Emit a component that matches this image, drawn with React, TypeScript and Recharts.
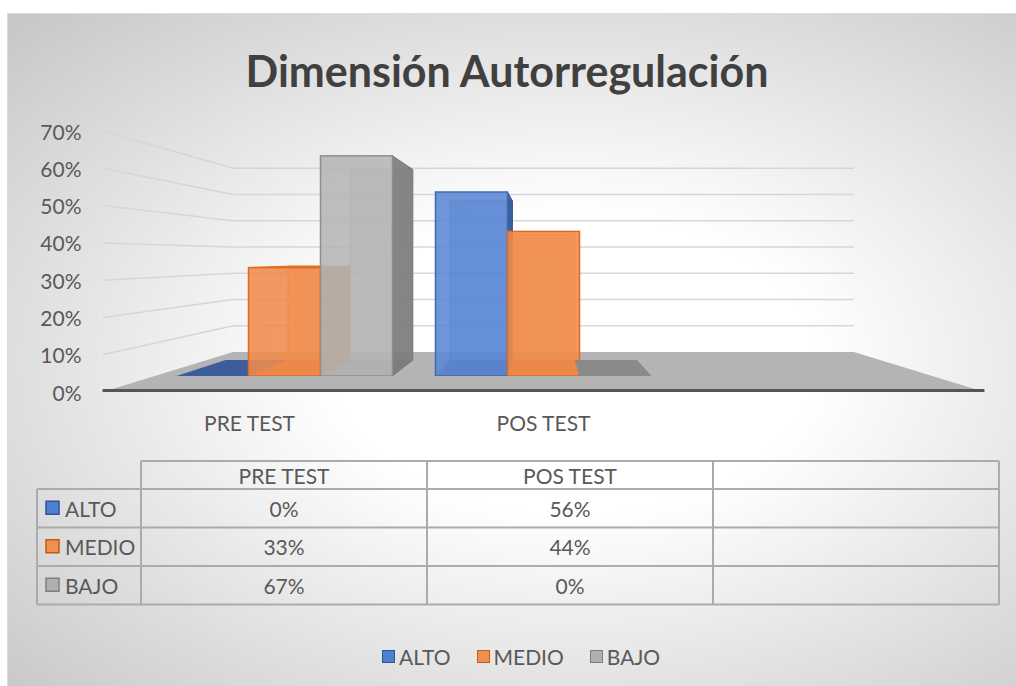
import React from 'react';
import { BarChart, Bar, XAxis, YAxis, CartesianGrid } from 'recharts';

const categories = ['PRE TEST', 'POS TEST', ''];
const altoValues = [0, 56, null];
const medioValues = [33, 44, null];
const bajoValues = [67, 0, null];
const yTicks = [0, 10, 20, 30, 40, 50, 60, 70];
const seriesNames = ['ALTO', 'MEDIO', 'BAJO'];
const seriesValues = [altoValues, medioValues, bajoValues];

const data = categories.map((name, i) => ({
  name,
  ALTO: altoValues[i],
  MEDIO: medioValues[i],
  BAJO: bajoValues[i],
}));

// layout of the front face of the bars, everything else is projected from it
const W = 1016;
const H = 686;
const PLOT_L = 155;
const PLOT_R = 932;
const PLOT_T = 146;
const PLOT_B = 376;
const VX = (PLOT_L + PLOT_R) / 2;
const VY = PLOT_B - 0.517 * (PLOT_B - PLOT_T);
const K_FLOOR = 1.135;
const K_WALL = 0.799;
const K_BACK = 0.866;

const proj = (x: number, y: number, k: number) => [VX + (x - VX) * k, VY + (y - VY) * k];
const pts = (arr: number[][]) => arr.map(p => p.join(',')).join(' ');

const FONT = 'Lato, "Open Sans", sans-serif';
const TEXT = '#595959';
const FS = 21;

const styles: Record<string, { front: string; stroke: string; side: string; floor: string; mark: string; markBorder: string }> = {
  ALTO: { front: '#5b87d3', stroke: '#3f69b5', side: '#2f5597', floor: '#3c5d9c', mark: '#4f7fd0', markBorder: '#2f5597' },
  MEDIO: { front: '#f08b4b', stroke: '#e0691c', side: '#c55a11', floor: '#c86a2c', mark: '#f0904f', markBorder: '#c55a11' },
  BAJO: { front: '#b5b5b5', stroke: '#8e8e8e', side: '#7b7b7b', floor: '#8a8a8a', mark: '#b0b0b0', markBorder: '#7f7f7f' },
};

const GridLine = (props: any) => {
  const { x1, x2, y1 } = props;
  if (Math.abs(y1 - PLOT_B) < 0.5) {
    const fl = proj(x1, y1, K_FLOOR);
    const fr = proj(x2, y1, K_FLOOR);
    const br = proj(x2, y1, K_WALL);
    const bl = proj(x1, y1, K_WALL);
    return (
      <g>
        <polygon points={pts([fl, fr, br, bl])} fill="#b4b4b4" />
        <line x1={fl[0]} y1={fl[1] - 1.5} x2={fr[0]} y2={fr[1] - 1.5} stroke="#555555" strokeWidth={3} />
      </g>
    );
  }
  const f = proj(x1, y1, K_FLOOR);
  const b = proj(x1, y1, K_WALL);
  const br = proj(x2, y1, K_WALL);
  return <polyline points={pts([f, b, br])} fill="none" stroke="#d6d6d6" strokeWidth={1.5} />;
};

const YTick = (props: any) => {
  const { y, payload } = props;
  const [px, py] = proj(PLOT_L, y, K_FLOOR);
  return (
    <text x={px - 21} y={py} textAnchor="end" dominantBaseline="central" fill={TEXT} fontSize={FS} fontFamily={FONT}>
      {payload.value}%
    </text>
  );
};

const XTick = (props: any) => {
  const { x, payload } = props;
  if (!payload.value) return <g />;
  const [px] = proj(x, PLOT_B, K_FLOOR);
  return (
    <text x={px} y={PLOT_B + 46} textAnchor="middle" dominantBaseline="central" fill={TEXT} fontSize={FS} fontFamily={FONT}>
      {payload.value}
    </text>
  );
};

const makeShape = (name: string, values: (number | null)[]) => (props: any) => {
  const { x, y, width, height, index } = props;
  if (values[index] == null) return <g />;
  const s = styles[name];
  const x0 = x;
  const x1 = x + width;
  const y0 = y;
  const y1 = y + height;
  const b = (px: number, py: number) => proj(px, py, K_BACK);
  if (height < 0.5) {
    return <polygon points={pts([[x0, y1], [x1, y1], b(x1, y1), b(x0, y1)])} fill={s.floor} />;
  }
  const faces = [];
  faces.push(
    <polygon key="bottom" points={pts([[x0, y1], [x1, y1], b(x1, y1), b(x0, y1)])} fill={s.floor} fillOpacity={0.85} />
  );
  faces.push(
    <polygon key="back" points={pts([b(x0, y0), b(x1, y0), b(x1, y1), b(x0, y1)])} fill={s.front} fillOpacity={0.5} stroke={s.stroke} strokeOpacity={0.7} />
  );
  if (x1 < VX) {
    faces.push(<polygon key="side" points={pts([[x1, y0], [x1, y1], b(x1, y1), b(x1, y0)])} fill={s.side} fillOpacity={0.9} stroke={s.side} />);
  } else if (x0 > VX) {
    faces.push(<polygon key="side" points={pts([[x0, y0], [x0, y1], b(x0, y1), b(x0, y0)])} fill={s.side} fillOpacity={0.9} stroke={s.side} />);
  }
  if (y0 > VY) {
    faces.push(<polygon key="top" points={pts([[x0, y0], [x1, y0], b(x1, y0), b(x0, y0)])} fill={s.front} stroke={s.stroke} />);
  }
  faces.push(
    <rect key="front" x={x0} y={y0} width={width} height={height} fill={s.front} fillOpacity={0.88} stroke={s.stroke} strokeWidth={1.5} />
  );
  return <g>{faces}</g>;
};

const TABLE_X = [37, 141, 427, 713, 999];
const TABLE_Y = [461, 489, 527.5, 566, 604.5];
const LINE = '#ababab';

const DataTable = () => (
  <svg width={W} height={H} style={{ position: 'absolute', left: 0, top: 0, pointerEvents: 'none' }}>
    <text x={507} y={70} textAnchor="middle" dominantBaseline="central" fill="#404040" fontSize={43} fontWeight="bold" fontFamily={FONT}>
      Dimensión Autorregulación
    </text>
    <line x1={TABLE_X[1]} y1={TABLE_Y[0]} x2={TABLE_X[4]} y2={TABLE_Y[0]} stroke={LINE} strokeWidth={2} />
    {TABLE_Y.slice(1).map((ty, i) => (
      <line key={'h' + i} x1={TABLE_X[0]} y1={ty} x2={TABLE_X[4]} y2={ty} stroke={LINE} strokeWidth={2} />
    ))}
    <line x1={TABLE_X[0]} y1={TABLE_Y[1]} x2={TABLE_X[0]} y2={TABLE_Y[4]} stroke={LINE} strokeWidth={2} />
    {TABLE_X.slice(1).map((tx, i) => (
      <line key={'v' + i} x1={tx} y1={TABLE_Y[0]} x2={tx} y2={TABLE_Y[4]} stroke={LINE} strokeWidth={2} />
    ))}
    {categories.map((c, i) => (
      <text key={'c' + i} x={(TABLE_X[i + 1] + TABLE_X[i + 2]) / 2} y={(TABLE_Y[0] + TABLE_Y[1]) / 2} textAnchor="middle" dominantBaseline="central" fill={TEXT} fontSize={FS} fontFamily={FONT}>
        {c}
      </text>
    ))}
    {seriesNames.map((name, r) => {
      const cy = (TABLE_Y[r + 1] + TABLE_Y[r + 2]) / 2;
      const s = styles[name];
      return (
        <g key={name}>
          <rect x={46} y={cy - 7} width={13} height={13} fill={s.mark} stroke={s.markBorder} strokeWidth={1.5} />
          <text x={65} y={cy} dominantBaseline="central" fill={TEXT} fontSize={FS} fontFamily={FONT}>{name}</text>
          {seriesValues[r].map((v, i) => (
            <text key={i} x={(TABLE_X[i + 1] + TABLE_X[i + 2]) / 2} y={cy} textAnchor="middle" dominantBaseline="central" fill={TEXT} fontSize={FS} fontFamily={FONT}>
              {v == null ? '' : `${v}%`}
            </text>
          ))}
        </g>
      );
    })}
  </svg>
);

const LegendRow = () => (
  <div style={{ position: 'absolute', left: 0, top: 644, width: 1042, display: 'flex', justifyContent: 'center', gap: 26, fontFamily: FONT, fontSize: FS, color: TEXT }}>
    {seriesNames.map(name => (
      <div key={name} style={{ display: 'flex', alignItems: 'center', gap: 4 }}>
        <span style={{ display: 'inline-block', width: 11, height: 11, background: styles[name].mark, border: `1.5px solid ${styles[name].markBorder}` }} />
        <span>{name}</span>
      </div>
    ))}
  </div>
);

export default function App() {
  return (
    <div style={{ position: 'absolute', left: 0, top: 0, width: W, height: H, background: '#ffffff', overflow: 'hidden' }}>
      <div
        style={{
          position: 'absolute',
          left: 7,
          top: 13,
          width: W - 7,
          height: H - 13,
          borderTop: '1px solid #dcdcdc',
          borderLeft: '1px solid #dcdcdc',
          background: 'radial-gradient(ellipse farthest-corner at 56% 52%, #ffffff 0%, #ffffff 30%, #c6c6c6 100%)',
        }}
      />
      <div style={{ position: 'absolute', left: 0, top: 0 }}>
        <BarChart
          width={W}
          height={H}
          data={data}
          margin={{ top: PLOT_T, right: W - PLOT_R, left: PLOT_L - 60, bottom: H - PLOT_B - 30 }}
          barCategoryGap="8.3%"
          barGap={0}
        >
          <CartesianGrid horizontal={GridLine} vertical={false} />
          <XAxis dataKey="name" height={30} axisLine={false} tickLine={false} tick={XTick} interval={0} />
          <YAxis width={60} domain={[0, 70]} ticks={yTicks} axisLine={false} tickLine={false} tick={YTick} allowDataOverflow />
          {seriesNames.map((name, i) => (
            <Bar key={name} dataKey={name} name={name} isAnimationActive={false} shape={makeShape(name, seriesValues[i])} />
          ))}
        </BarChart>
      </div>
      <DataTable />
      <LegendRow />
    </div>
  );
}
